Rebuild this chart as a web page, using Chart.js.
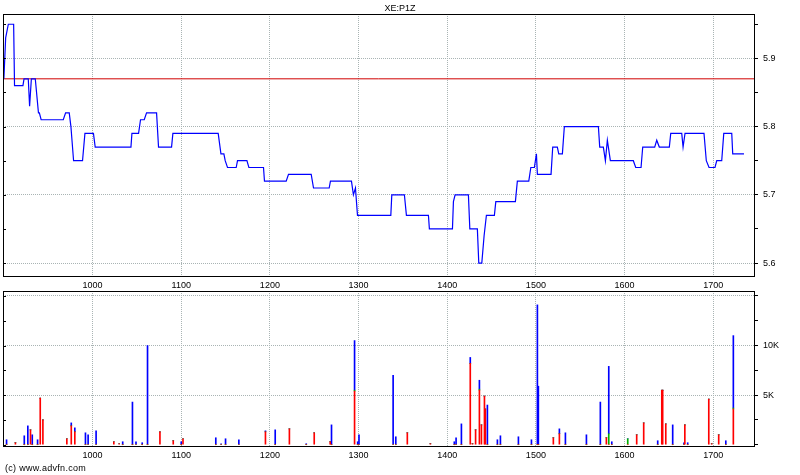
<!DOCTYPE html>
<html>
<head>
<meta charset="utf-8">
<script src="https://cdn.jsdelivr.net/npm/chart.js@4"></script>
<style>
body { margin: 0; background: #fff; }
#wrap { position: relative; width: 800px; height: 475px; font-family: "Liberation Sans", Arial, sans-serif; }
#price_box { position: absolute; left: 0; top: 0; }
#vol_box { position: absolute; left: 0; top: 285px; }
.txt { position: absolute; font-size: 9px; color: #000; white-space: nowrap; }
</style>
</head>
<body>
<div id="wrap">
  <canvas id="price_box" width="800" height="290"></canvas>
  <canvas id="vol_box" width="800" height="190"></canvas>
  <div class="txt" style="left:0; width:800px; top:3px; text-align:center;">XE:P1Z</div>
  <div class="txt" style="left:5px; top:463px; letter-spacing:0.3px;">(c) www.advfn.com</div>
</div>
<script>
// axis range and ticks
const xMin = 899;
const xMax = 1746;
const xTicks = [1000, 1100, 1200, 1300, 1400, 1500, 1600, 1700];
const priceTicks = [5.6, 5.65, 5.7, 5.75, 5.8, 5.85, 5.9, 5.95];
const volTicks = [0, 2500, 5000, 7500, 10000, 12500, 15000];
const refPrice = 5.87;

// price line
const priceX = [900, 902, 905, 911, 912, 921.5, 922.7, 927.5, 929, 931, 935.4, 939, 940, 942, 967, 969.6, 973.7, 975.6, 978.6, 988.7,
  991.4, 1001, 1003, 1043.3, 1044.4, 1051.9, 1054.1, 1058.3, 1060.9, 1072.2, 1074.4, 1089.1, 1090.6, 1141.7, 1144.8, 1148.1, 1149.6, 1152.2, 1162, 1163.5,
  1174.1, 1176.3, 1192.8, 1193.9, 1218.4, 1221, 1246.6, 1249.2, 1266.9, 1268.3, 1292, 1294.2, 1296.5, 1298.8, 1336.4, 1337.5, 1351.7, 1354, 1378.8, 1379.9,
  1405.9, 1407, 1408.9, 1423.9, 1425.5, 1434, 1435.6, 1439, 1441.6, 1444.2, 1453.2, 1454.8, 1476.9, 1479.1, 1492, 1494.3, 1498.3, 1500.6, 1501.7, 1517.1,
  1519, 1524.2, 1525.8, 1529.9, 1532.1, 1570.5, 1572, 1576.1, 1578.4, 1580.6, 1584, 1609.9, 1612.6, 1618.6, 1620.5, 1634, 1636.3, 1639.2, 1650.5, 1652.1,
  1664.5, 1666, 1668.2, 1689.6, 1692.2, 1695.3, 1702, 1704, 1709.6, 1711.9, 1720.9, 1722, 1734.7];
const priceY = [5.87, 5.93, 5.95, 5.95, 5.86, 5.86, 5.87, 5.87, 5.83, 5.87, 5.87, 5.82, 5.82, 5.81, 5.81, 5.82, 5.82, 5.80, 5.75, 5.75,
  5.79, 5.79, 5.77, 5.77, 5.79, 5.79, 5.81, 5.81, 5.82, 5.82, 5.77, 5.77, 5.79, 5.79, 5.76, 5.76, 5.75, 5.74, 5.74, 5.75,
  5.75, 5.74, 5.74, 5.72, 5.72, 5.73, 5.73, 5.71, 5.71, 5.72, 5.72, 5.70, 5.71, 5.67, 5.67, 5.70, 5.70, 5.67, 5.67, 5.65,
  5.65, 5.69, 5.70, 5.70, 5.65, 5.65, 5.60, 5.60, 5.64, 5.67, 5.67, 5.69, 5.69, 5.72, 5.72, 5.74, 5.74, 5.76, 5.73, 5.73,
  5.77, 5.77, 5.76, 5.76, 5.80, 5.80, 5.77, 5.77, 5.75, 5.78, 5.75, 5.75, 5.74, 5.74, 5.77, 5.77, 5.78, 5.77, 5.77, 5.79,
  5.79, 5.77, 5.79, 5.79, 5.75, 5.74, 5.74, 5.75, 5.75, 5.79, 5.79, 5.76, 5.76];

// volume bars (red / green / blue stacked)
const volX = [903, 913, 923, 927, 930, 932, 938, 941, 944, 971, 976, 980, 992, 995, 1004, 1024, 1030, 1034, 1045, 1049,
  1056, 1062, 1076, 1091, 1100, 1102, 1139, 1145, 1150, 1165, 1195, 1206, 1222, 1241, 1250, 1268, 1269.5, 1295.5, 1299, 1300.5,
  1339, 1342, 1355, 1381, 1408, 1410, 1416, 1426, 1428.5, 1432, 1436.3, 1438.6, 1442, 1443, 1445.3, 1456.6, 1460, 1480.3, 1495, 1501.7,
  1502.8, 1519.7, 1526.5, 1533.3, 1557, 1572.7, 1579.5, 1582.2, 1585.6, 1603.6, 1613.7, 1621.6, 1637.4, 1642, 1643, 1646.5, 1654.3, 1667, 1668, 1671.2,
  1695, 1698.3, 1706.2, 1714.2, 1722.7];
const volRed = [0, 200, 0, 0, 1500, 0, 0, 4700, 2500, 600, 1900, 1300, 0, 0, 0, 300, 100, 0, 0, 0,
  0, 0, 1300, 400, 0, 600, 0, 0, 0, 0, 1300, 0, 1600, 0, 1200, 300, 0, 5400, 0, 0,
  0, 0, 1200, 100, 0, 0, 0, 8200, 100, 1500, 5500, 2000, 4900, 3600, 0, 0, 0, 0, 0, 0,
  0, 700, 1100, 0, 0, 0, 700, 0, 0, 0, 1000, 2200, 0, 5500, 5500, 2100, 0, 0, 2000, 0,
  4600, 100, 1000, 0, 3600];
const volGreen = [0, 0, 0, 0, 0, 0, 0, 0, 0, 0, 0, 0, 0, 0, 0, 0, 0, 0, 0, 0,
  0, 0, 0, 0, 0, 0, 0, 0, 0, 0, 0, 0, 0, 0, 0, 0, 0, 100, 0, 0,
  0, 0, 0, 0, 0, 0, 0, 0, 0, 0, 100, 0, 0, 0, 0, 0, 0, 0, 0, 0,
  0, 0, 0, 0, 0, 0, 0, 1100, 0, 600, 0, 0, 0, 0, 0, 0, 0, 0, 0, 0,
  0, 0, 0, 0, 100];
const volBlue = [500, 0, 900, 1900, 0, 1000, 500, 0, 0, 0, 300, 400, 1200, 1000, 1400, 0, 0, 300, 4300, 300,
  200, 10000, 0, 0, 300, 0, 700, 100, 600, 500, 100, 1500, 0, 100, 0, 0, 2000, 5000, 300, 1000,
  7000, 800, 0, 0, 300, 700, 2100, 600, 0, 0, 900, 0, 0, 0, 4000, 500, 900, 800, 500, 14100,
  5900, 0, 500, 1200, 1000, 4300, 0, 6800, 300, 0, 0, 0, 400, 0, 0, 0, 2000, 200, 0, 200,
  0, 0, 0, 400, 7300];

Chart.defaults.font.family = '"Liberation Sans", Arial, sans-serif';
Chart.defaults.font.size = 9;
Chart.defaults.color = '#000';

const gridColor = '#a9b4b4';

// black frame plus short inner ticks on the left edge
const framePlugin = {
  id: 'frame',
  afterDraw(chart) {
    const ctx = chart.ctx;
    const a = chart.chartArea;
    const ys = chart.scales.y;
    ctx.save();
    ctx.strokeStyle = '#000';
    ctx.lineWidth = 1;
    ctx.strokeRect(Math.round(a.left) + 0.5, Math.round(a.top) + 0.5,
      Math.round(a.right - a.left), Math.round(a.bottom - a.top));
    ctx.beginPath();
    ys.ticks.forEach(t => {
      const py = Math.round(ys.getPixelForValue(t.value)) + 0.5;
      ctx.moveTo(a.left, py);
      ctx.lineTo(a.left + 3, py);
    });
    ctx.stroke();
    ctx.restore();
  }
};

function xScale(h) {
  return {
    type: 'linear',
    min: xMin,
    max: xMax,
    offset: false,
    afterBuildTicks: s => { s.ticks = xTicks.map(v => ({value: v})); },
    afterFit: s => { s.height = h; },
    grid: { color: gridColor, drawTicks: false, offset: false },
    border: { display: false, dash: [1, 1] },
    ticks: { padding: 4, maxRotation: 0, callback: v => String(v) }
  };
}

function noPad(s) {
  s.width = 46;
  s.paddingTop = 0;
  s.paddingBottom = 0;
}

// price chart
new Chart(document.getElementById('price_box').getContext('2d'), {
  type: 'line',
  data: {
    datasets: [{
      data: priceX.map((x, i) => ({x: x, y: priceY[i]})),
      borderColor: '#0000ff',
      borderWidth: 1.2,
      pointRadius: 0,
      tension: 0
    }, {
      data: [{x: xMin, y: refPrice}, {x: xMax, y: refPrice}],
      borderColor: '#d00000',
      borderWidth: 1,
      pointRadius: 0
    }]
  },
  options: {
    responsive: false,
    animation: false,
    layout: { padding: { left: 3, top: 14, right: 0, bottom: 0 } },
    plugins: { legend: { display: false }, tooltip: { enabled: false } },
    scales: {
      x: xScale(14),
      y: {
        position: 'right',
        min: 5.581,
        max: 5.965,
        afterBuildTicks: s => { s.ticks = priceTicks.map(v => ({value: v})); },
        afterFit: noPad,
        grid: {
          color: c => (Math.round(c.tick.value * 100) % 10 === 0 ? gridColor : 'rgba(0,0,0,0)'),
          tickColor: '#000',
          tickLength: 4
        },
        border: { display: false, dash: [1, 1] },
        ticks: {
          padding: 5,
          callback: v => (Math.round(v * 100) % 10 === 0 ? v.toFixed(1) : '')
        }
      }
    }
  },
  plugins: [framePlugin]
});

// volume chart
function volSet(vals, color) {
  return {
    data: volX.map((x, i) => ({x: x, y: vals[i]})),
    backgroundColor: color,
    borderWidth: 0,
    barThickness: 1
  };
}

new Chart(document.getElementById('vol_box').getContext('2d'), {
  type: 'bar',
  data: {
    datasets: [volSet(volRed, '#ff0000'), volSet(volGreen, '#00b000'), volSet(volBlue, '#0000ff')]
  },
  options: {
    responsive: false,
    animation: false,
    layout: { padding: { left: 3, top: 6, right: 0, bottom: 13 } },
    plugins: { legend: { display: false }, tooltip: { enabled: false } },
    scales: {
      x: Object.assign(xScale(16), { stacked: true }),
      y: {
        position: 'right',
        stacked: true,
        min: -130,
        max: 15500,
        afterBuildTicks: s => { s.ticks = volTicks.map(v => ({value: v})); },
        afterFit: noPad,
        grid: {
          color: c => (c.tick.value > 0 && c.tick.value % 5000 === 0 ? gridColor : 'rgba(0,0,0,0)'),
          tickColor: '#000',
          tickLength: 4
        },
        border: { display: false, dash: [1, 1] },
        ticks: {
          padding: 5,
          callback: v => (v === 5000 || v === 10000 ? (v / 1000) + 'K' : '')
        }
      }
    }
  },
  plugins: [framePlugin]
});
</script>
</body>
</html>
